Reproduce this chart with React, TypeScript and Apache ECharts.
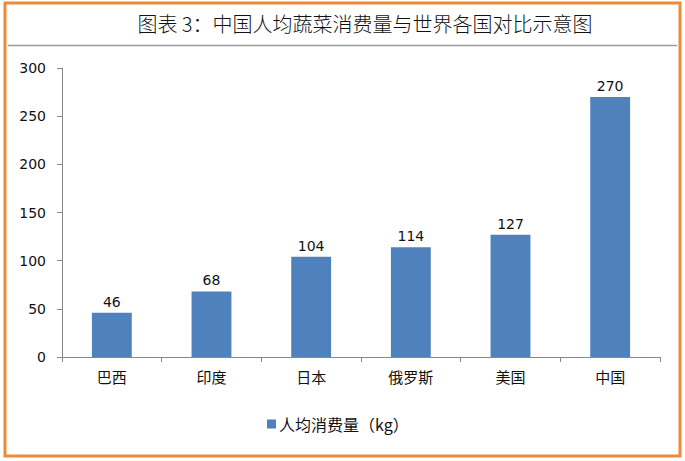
import React, { useEffect, useRef } from "react";
import * as echarts from "echarts";

const categories = ["巴西", "印度", "日本", "俄罗斯", "美国", "中国"];
const values = [46, 68, 104, 114, 127, 270];
const seriesName = "人均消费量（kg）";
const titleText = "图表 3：中国人均蔬菜消费量与世界各国对比示意图";

export default function App() {
  const ref = useRef<HTMLDivElement>(null);
  useEffect(() => {
    const chart = echarts.init(ref.current!, null, { renderer: "svg" });
    chart.setOption({
      animation: false,
      backgroundColor: "#fff",
      textStyle: { fontFamily: "DejaVu Sans, Noto Sans CJK SC" },
      title: {
        text: titleText,
        left: 360,
        top: 8,
        textAlign: "center",
        textStyle: { fontFamily: "Noto Sans CJK SC", fontSize: 20, fontWeight: 300, color: "#111" },
      },
      graphic: [
        {
          type: "rect",
          shape: { x: 5, y: 3, width: 675, height: 453 },
          style: { fill: "none", stroke: "#EE8A3A", lineWidth: 3 },
        },
        {
          type: "line",
          shape: { x1: 8, y1: 45.5, x2: 677, y2: 45.5 },
          style: { stroke: "#9a9a9a", lineWidth: 1.5 },
        },
      ],
      legend: {
        data: [seriesName],
        left: 262,
        top: 411,
        itemWidth: 9,
        itemHeight: 9,
        itemGap: 4,
        icon: "rect",
        textStyle: { fontFamily: "Noto Sans CJK SC", fontSize: 16, color: "#111", padding: [0, 0, 0, -2] },
      },
      grid: { left: 62, right: 25, top: 68, bottom: 104 },
      xAxis: {
        type: "category",
        data: categories,
        axisLine: { lineStyle: { color: "#888" } },
        axisTick: { show: true, alignWithLabel: false, length: 5, lineStyle: { color: "#888" } },
        axisLabel: { fontFamily: "Noto Sans CJK SC", fontSize: 15, color: "#111", margin: 12 },
      },
      yAxis: {
        type: "value",
        min: 0,
        max: 300,
        interval: 50,
        axisLine: { show: true, lineStyle: { color: "#888" } },
        axisTick: { show: true, length: 5, lineStyle: { color: "#888" } },
        splitLine: { show: false },
        axisLabel: { fontFamily: "DejaVu Sans", fontSize: 14, color: "#111", margin: 16 },
      },
      series: [
        {
          name: seriesName,
          type: "bar",
          data: values,
          barWidth: "40%",
          itemStyle: { color: "#4F81BD" },
          label: { show: true, position: "top", fontFamily: "DejaVu Sans", fontSize: 14, color: "#111", distance: 4 },
        },
      ],
    });
    return () => chart.dispose();
  }, []);
  return <div ref={ref} style={{ position: "fixed", left: 0, top: 0, width: 685, height: 461 }} />;
}
